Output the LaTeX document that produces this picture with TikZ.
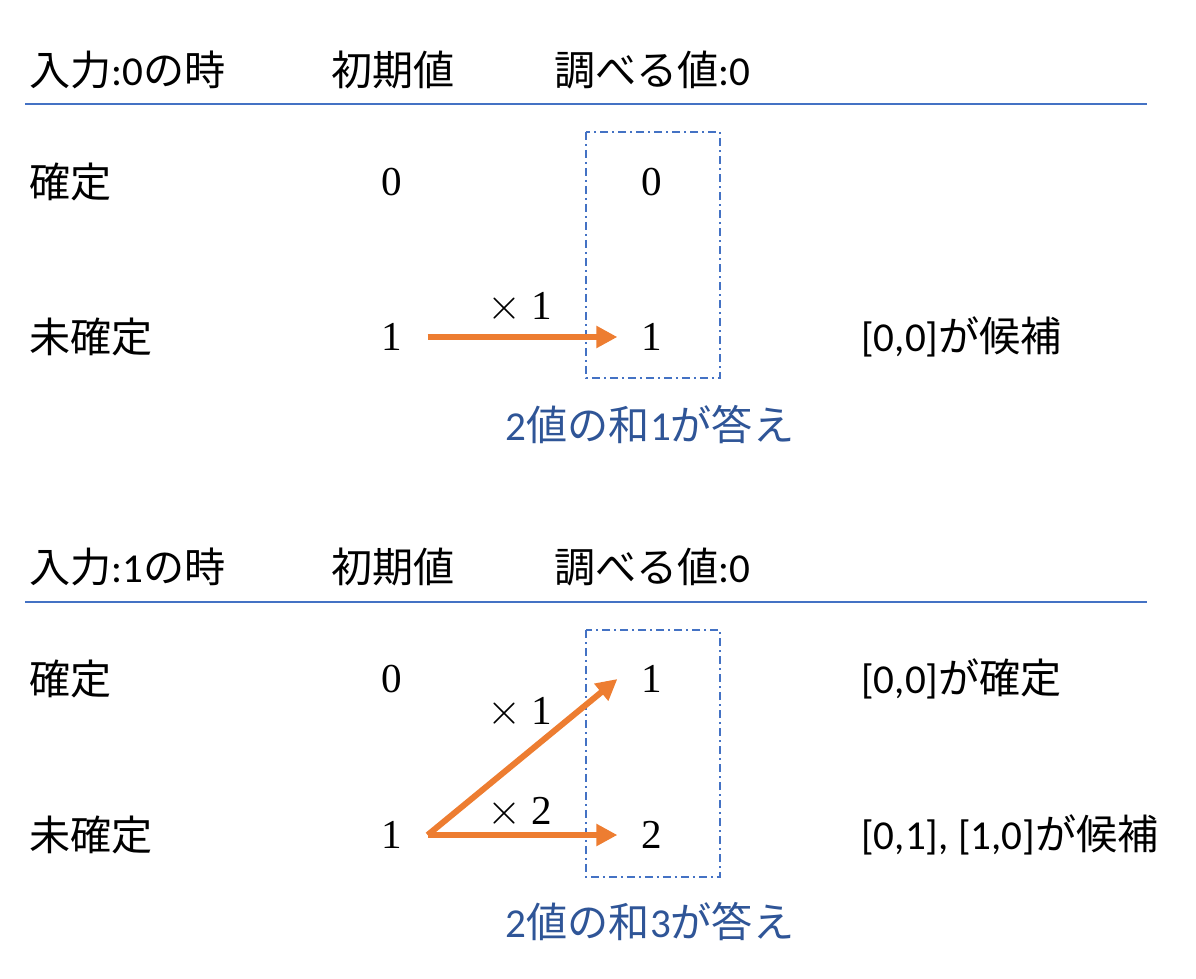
\documentclass[tikz,border=0pt]{standalone}
\usepackage{fontspec}
\setmainfont{Carlito}
\newfontfamily\jp{Noto Sans CJK JP}
\newfontfamily\num{Liberation Serif}
\usepackage{tikz}
\usetikzlibrary{arrows.meta}
\definecolor{lineblue}{HTML}{4472C4}
\definecolor{ansblue}{HTML}{2F5597}
\definecolor{arrorange}{HTML}{ED7D31}

\begin{document}
\begin{tikzpicture}[x=0.02cm,y=-0.02cm,inner sep=0pt,
  font=\fontsize{23.4}{28}\selectfont,
  >={Triangle[length=0.42cm,width=0.42cm]},
  rowtxt/.style={anchor=west},
  valtxt/.style={font=\fontsize{23.4}{28}\selectfont\num},
  anstxt/.style={text=ansblue},
  mularrow/.style={->,arrorange,line width=0.12cm},
  sepline/.style={lineblue,line width=0.03cm},
  candbox/.style={lineblue,line width=0.03cm,dash pattern=on 0.16cm off 0.08cm on 0.04cm off 0.08cm}]
  \useasboundingbox (0,0) rectangle (1196,979);

  % input 0
  \node[rowtxt] (in0) at (29,70) {{\jp 入力}:0{\jp の時}};
  \node (init0) at (393,70) {\jp 初期値};
  \node[rowtxt] (look0) at (554,70) {{\jp 調べる値}:0};
  \draw[sepline] (25,104) -- (1147,104);
  \node[rowtxt] (fix0) at (29,182) {\jp 確定};
  \node[rowtxt] (unfix0) at (29,337) {\jp 未確定};
  \node[valtxt] (a0) at (392,182) {0};
  \node[valtxt] (b0) at (392,337) {1};
  \node[valtxt] (c0) at (652,182) {0};
  \node[valtxt] (d0) at (652,337) {1};
  \draw[candbox] (586,132) rectangle (720,378);
  \draw[mularrow] ([xshift=0.5cm]b0.east) -- ([xshift=-0.48cm]d0.west);
  \node[valtxt] (m0) at (520,308) {$\times$ 1};
  \node[rowtxt] (cand0) at (861,337) {[0,0]{\jp が候補}};
  \node[anstxt] (ans0) at (650,425) {2{\jp 値の和}1{\jp が答え}};

  % input 1
  \node[rowtxt] (in1) at (29,567) {{\jp 入力}:1{\jp の時}};
  \node (init1) at (393,567) {\jp 初期値};
  \node[rowtxt] (look1) at (554,567) {{\jp 調べる値}:0};
  \draw[sepline] (25,602) -- (1147,602);
  \node[rowtxt] (fix1) at (29,679) {\jp 確定};
  \node[rowtxt] (unfix1) at (29,835) {\jp 未確定};
  \node[valtxt] (a1) at (392,679) {0};
  \node[valtxt] (b1) at (392,835) {1};
  \node[valtxt] (c1) at (652,679) {1};
  \node[valtxt] (d1) at (652,835) {2};
  \draw[candbox] (586,630) rectangle (720,877);
  \draw[mularrow] ([xshift=0.5cm]b1.east) -- ([xshift=-0.48cm]c1.west);
  \draw[mularrow] ([xshift=0.5cm]b1.east) -- ([xshift=-0.48cm]d1.west);
  \node[valtxt] (m1) at (520,713) {$\times$ 1};
  \node[valtxt] (m2) at (520,813) {$\times$ 2};
  \node[rowtxt] (fixed1) at (861,679) {[0,0]{\jp が確定}};
  \node[rowtxt] (cand1) at (861,835) {[0,1], [1,0]{\jp が候補}};
  \node[anstxt] (ans1) at (650,922) {2{\jp 値の和}3{\jp が答え}};
\end{tikzpicture}
\end{document}
